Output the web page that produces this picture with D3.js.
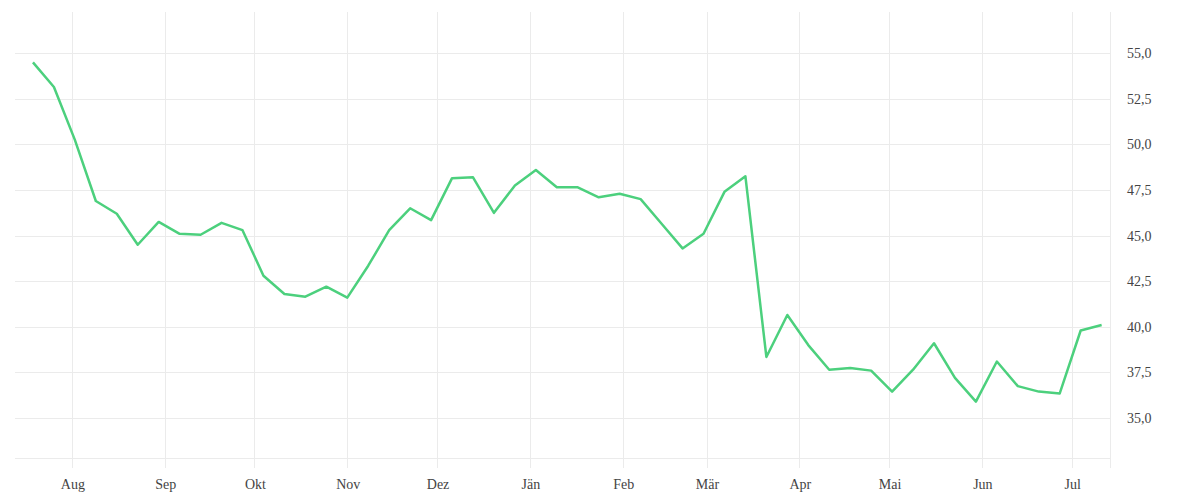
<!DOCTYPE html>
<html>
<head>
<meta charset="utf-8">
<script src="https://cdn.jsdelivr.net/npm/d3@7"></script>
<style>
  body { margin: 0; background: #fff; }
  text { font-family: "Liberation Serif", serif; fill: #444; }
</style>
</head>
<body>
<div id="chart"></div>
<script>
// weekly values, first week starts 19 Jul 2022
const startDate = Date.UTC(2022, 6, 19);
const values = [
  54.5, 53.15, 50.25, 46.9, 46.2, 44.5, 45.75, 45.1, 45.05, 45.7,
  45.3, 42.8, 41.8, 41.65, 42.2, 41.6, 43.35, 45.3, 46.5, 45.85,
  48.15, 48.2, 46.25, 47.75, 48.6, 47.65, 47.65, 47.1, 47.3, 47.0,
  45.65, 44.3, 45.1, 47.4, 48.25, 38.35, 40.65, 39.0, 37.65, 37.75,
  37.6, 36.45, 37.65, 39.1, 37.2, 35.9, 38.1, 36.75, 36.45, 36.35,
  39.8, 40.1
];
const monthLabels = ["Jän", "Feb", "Mär", "Apr", "Mai", "Jun", "Jul", "Aug", "Sep", "Okt", "Nov", "Dez"];
const yTicks = [35, 37.5, 40, 42.5, 45, 47.5, 50, 52.5, 55];

const data = values.map((v, i) => ({ date: new Date(startDate + i * 7 * 864e5), value: v }));

const width = 1200, height = 500;
const margin = { top: 12, right: 90, bottom: 42, left: 15 };

const svg = d3.select("#chart").append("svg")
  .attr("width", width)
  .attr("height", height);

const x = d3.scaleUtc()
  .domain([new Date(Date.UTC(2022, 6, 13)), new Date(Date.UTC(2023, 6, 13, 19))])
  .range([margin.left, width - margin.right]);

const y = d3.scaleLinear()
  .domain([32.81, 57.26])
  .range([height - margin.bottom, margin.top]);

const grid = svg.append("g").attr("stroke", "#ebebeb").attr("stroke-width", 1);

// horizontal grid
grid.selectAll("line.h")
  .data(yTicks)
  .join("line")
  .attr("class", "h")
  .attr("x1", margin.left).attr("x2", width - margin.right)
  .attr("y1", d => Math.round(y(d)) + 0.5).attr("y2", d => Math.round(y(d)) + 0.5);

// baseline
grid.append("line")
  .attr("x1", margin.left).attr("x2", width - margin.right)
  .attr("y1", height - margin.bottom + 0.5).attr("y2", height - margin.bottom + 0.5);

// month grid + ticks
const months = d3.utcMonth.range(x.domain()[0], x.domain()[1]).filter(d => d > x.domain()[0]);
grid.selectAll("line.v")
  .data(months)
  .join("line")
  .attr("class", "v")
  .attr("x1", d => Math.round(x(d)) + 0.5).attr("x2", d => Math.round(x(d)) + 0.5)
  .attr("y1", margin.top).attr("y2", height - margin.bottom + 10);

// right edge
grid.append("line")
  .attr("x1", width - margin.right + 0.5).attr("x2", width - margin.right + 0.5)
  .attr("y1", margin.top).attr("y2", height - margin.bottom + 10);

// x labels
svg.append("g")
  .selectAll("text")
  .data(months)
  .join("text")
  .attr("x", d => x(d) + 1)
  .attr("y", height - margin.bottom + 26)
  .attr("dy", "0.35em")
  .attr("text-anchor", "middle")
  .style("font-size", "14px")
  .text(d => monthLabels[d.getUTCMonth()]);

// y labels
const fmt = d3.format(".1f");
svg.append("g")
  .selectAll("text")
  .data(yTicks)
  .join("text")
  .attr("x", width - margin.right + 17)
  .attr("y", d => y(d))
  .attr("dy", "0.35em")
  .style("font-size", "14px")
  .text(d => fmt(d).replace(".", ","));

// line
svg.append("path")
  .datum(data)
  .attr("fill", "none")
  .attr("stroke", "#4cd07d")
  .attr("stroke-width", 2.5)
  .attr("stroke-linejoin", "round")
  .attr("d", d3.line().x(d => x(d.date)).y(d => y(d.value)));
</script>
</body>
</html>
